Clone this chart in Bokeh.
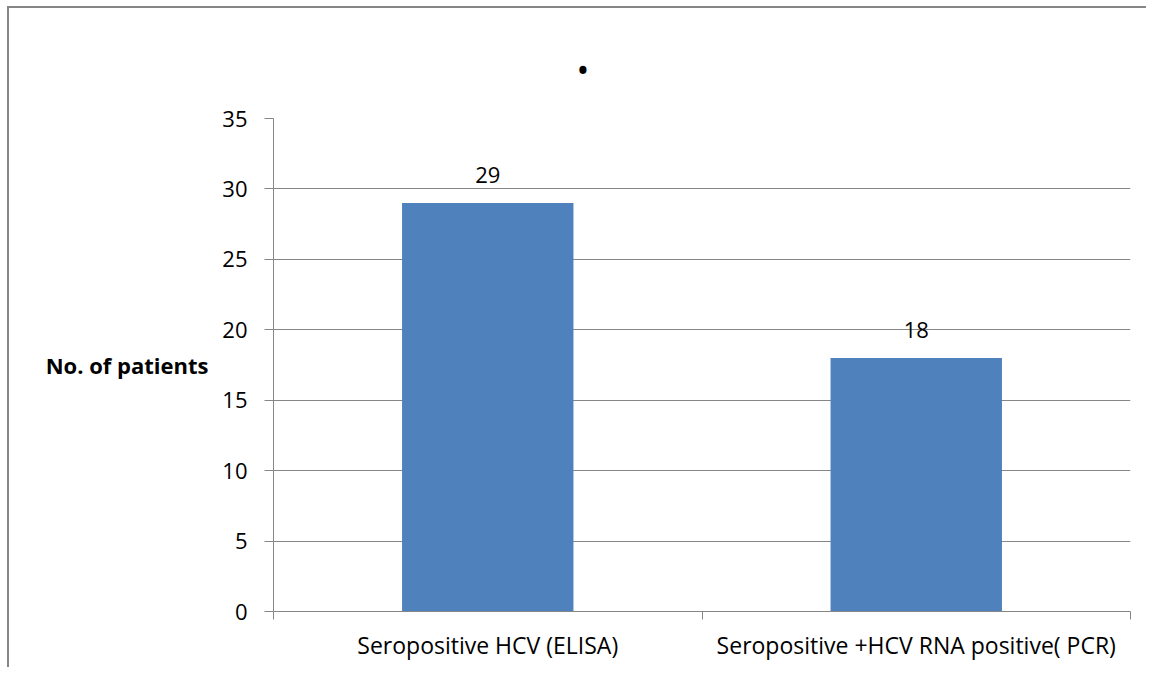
from bokeh.plotting import figure
from bokeh.models import (ColumnDataSource, Range1d, FixedTicker, LabelSet, LinearAxis)
from bokeh.core.properties import value
from bokeh.embed import file_html
from bokeh.resources import INLINE

categories = ["Seropositive HCV (ELISA)", "Seropositive +HCV RNA positive( PCR)"]
patients = [29, 18]
y_ticks = [0, 5, 10, 15, 20, 25, 30, 35]
y_label = "No. of patients"
title_text = "•"

FONT = "Open Sans"
GRAY = "#868686"
BAR = "#4F81BD"

xpos = [i + 0.5 for i in range(len(categories))]
source = ColumnDataSource(dict(x=xpos, y=patients, lab=[str(v) for v in patients]))
y_min, y_max = y_ticks[0], y_ticks[-1]

p = figure(width=1146, height=667, output_backend="svg", toolbar_location=None,
           x_range=Range1d(0, len(categories)), y_range=Range1d(y_min, y_max),
           min_border_left=273, min_border_right=16, min_border_top=118,
           min_border_bottom=56)
p.outline_line_color = None
p.background_fill_color = "white"
p.border_fill_color = "white"
p.border_fill_alpha = 0
# outer chart-area border (left and top edges)
p.styles = {
    "background": "linear-gradient(#868686,#868686) 7px 6px / 2px 100% no-repeat, "
                  "linear-gradient(#868686,#868686) 7px 6px / 100% 2px no-repeat, white"
}

# title (a single bullet)
p.title.text = title_text
p.title.align = "left"
p.title.offset = 303
p.title.standoff = 51
p.title.text_font = FONT
p.title.text_font_size = "34px"
p.title.text_font_style = "normal"
p.title.text_color = "black"

p.vbar(x="x", top="y", width=0.4, bottom=0, source=source,
       fill_color=BAR, line_color=None)

# y axis
p.yaxis.ticker = FixedTicker(ticks=y_ticks)
p.yaxis.axis_line_color = GRAY
p.yaxis.major_tick_line_color = GRAY
p.yaxis.major_tick_out = 9
p.yaxis.major_tick_in = 0
p.yaxis.minor_tick_line_color = None
p.yaxis.major_label_standoff = 17
p.yaxis.major_label_text_font = FONT
p.yaxis.major_label_text_font_size = "22px"
p.yaxis.major_label_text_color = "black"

# horizontal y-axis title, as a label-only axis outside the tick axis
mid = (y_min + y_max) / 2
title_axis = LinearAxis(ticker=FixedTicker(ticks=[mid]),
                        major_label_overrides={mid: y_label})
title_axis.axis_line_color = None
title_axis.major_tick_line_color = None
title_axis.minor_tick_line_color = None
title_axis.major_tick_out = 0
title_axis.major_tick_in = 0
title_axis.major_label_standoff = 11
title_axis.major_label_text_font = FONT
title_axis.major_label_text_font_size = "22px"
title_axis.major_label_text_font_style = "bold"
title_axis.major_label_text_color = "black"
p.add_layout(title_axis, "left")

# x axis: category labels at centers, tick marks at boundaries
p.xaxis.ticker = FixedTicker(ticks=xpos, minor_ticks=list(range(len(categories) + 1)))
p.xaxis.major_label_overrides = {x: c for x, c in zip(xpos, categories)}
p.xaxis.axis_line_color = GRAY
p.xaxis.major_tick_line_color = None
p.xaxis.major_tick_out = 0
p.xaxis.major_tick_in = 0
p.xaxis.minor_tick_line_color = GRAY
p.xaxis.minor_tick_out = 8
p.xaxis.minor_tick_in = 0
p.xaxis.major_label_standoff = 9
p.xaxis.major_label_text_font = FONT
p.xaxis.major_label_text_font_size = "23px"
p.xaxis.major_label_text_color = "black"

p.xgrid.grid_line_color = None
p.ygrid.ticker = FixedTicker(ticks=y_ticks)
p.ygrid.grid_line_color = GRAY
p.ygrid.grid_line_width = 1

labels = LabelSet(x="x", y="y", text="lab", source=source, y_offset=20,
                  text_align="center", text_baseline="alphabetic",
                  text_font=value(FONT), text_font_size=value("22px"),
                  text_color="black")
p.add_layout(labels)

open("out.html", "w").write(file_html(p, INLINE))
